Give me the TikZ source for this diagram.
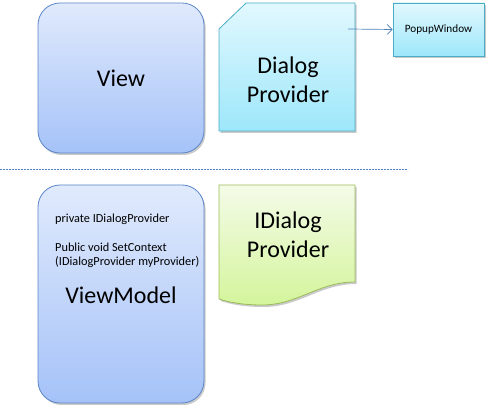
\documentclass[tikz,border=0pt]{standalone}
\usepackage{fontspec}
\setmainfont{Carlito}
\usetikzlibrary{shadows,arrows.meta}
\definecolor{vtop}{HTML}{E0EAFC}
\definecolor{vbot}{HTML}{A5C2F8}
\definecolor{vline}{HTML}{5B86C8}
\definecolor{dtop}{HTML}{E2F8FE}
\definecolor{dbot}{HTML}{9DE7FA}
\definecolor{dline}{HTML}{4BACC6}
\definecolor{gtop}{HTML}{F4FBE8}
\definecolor{gbot}{HTML}{D4F59C}
\definecolor{gline}{HTML}{9BBB59}
\definecolor{dashblue}{HTML}{4F81BD}
\tikzset{
  shad/.style={drop shadow={shadow xshift=1.5pt,shadow yshift=-2pt,opacity=0.35,fill=black!60}},
  vshape/.style={draw=vline,line width=0.8pt,top color=vtop,bottom color=vbot,shad},
  dshape/.style={draw=dline,line width=0.8pt,top color=dtop,bottom color=dbot,shad},
  gshape/.style={draw=gline,line width=0.8pt,top color=gtop,bottom color=gbot,shad},
  big/.style={font=\fontsize{24}{29}\selectfont,align=center},
  small/.style={font=\fontsize{12.3}{14}\selectfont,align=left,inner sep=0pt},
}
\begin{document}
\begin{tikzpicture}[x=1pt,y=-1pt]
\useasboundingbox (0,0) rectangle (490,411);
% View
\path[vshape,rounded corners=22pt] (38,3) rectangle (204,153);
\node[big] (view) at (121,78) {View};
% Dialog Provider
\path[dshape] (219,29) -- (246,3) -- (355,3) -- (355,131) -- (219,131) -- cycle;
\node[big] (dp) at (288,80) {Dialog\\Provider};
% PopupWindow
\node[dshape,minimum width=91pt,minimum height=53pt,inner sep=0pt,font=\fontsize{11.2}{13}\selectfont] (popup) at (438.5,29.5) {PopupWindow};
\coordinate (arrstart) at (348,29);
\draw[dashblue,line width=0.7pt,-{Straight Barb[length=5pt,width=10pt]}] (arrstart) -- (popup.west);
% dashed line
\coordinate (dl) at (0,169);
\coordinate (dr) at (408,169);
\draw[dashblue,line width=0.5pt,dash pattern=on 2pt off 1pt] (dl) -- (dr);
% ViewModel
\path[vshape,rounded corners=22pt] (38,185) rectangle (204,403);
\node[small,anchor=west] (priv) at (55,219) {private IDialogProvider};
\node[small,anchor=west] (pub) at (55,255) {Public void SetContext\\(IDialogProvider myProvider)};
\node[big] (vm) at (121,295) {ViewModel};
% IDialog Provider
\path[gshape] (219,185) -- (355,185) -- (355,282) .. controls (318,282) and (298,305) .. (262,305) .. controls (242,305) and (228,302) .. (219,299) -- cycle;
\node[big] (idp) at (288,234.5) {IDialog\\Provider};
\end{tikzpicture}
\end{document}
